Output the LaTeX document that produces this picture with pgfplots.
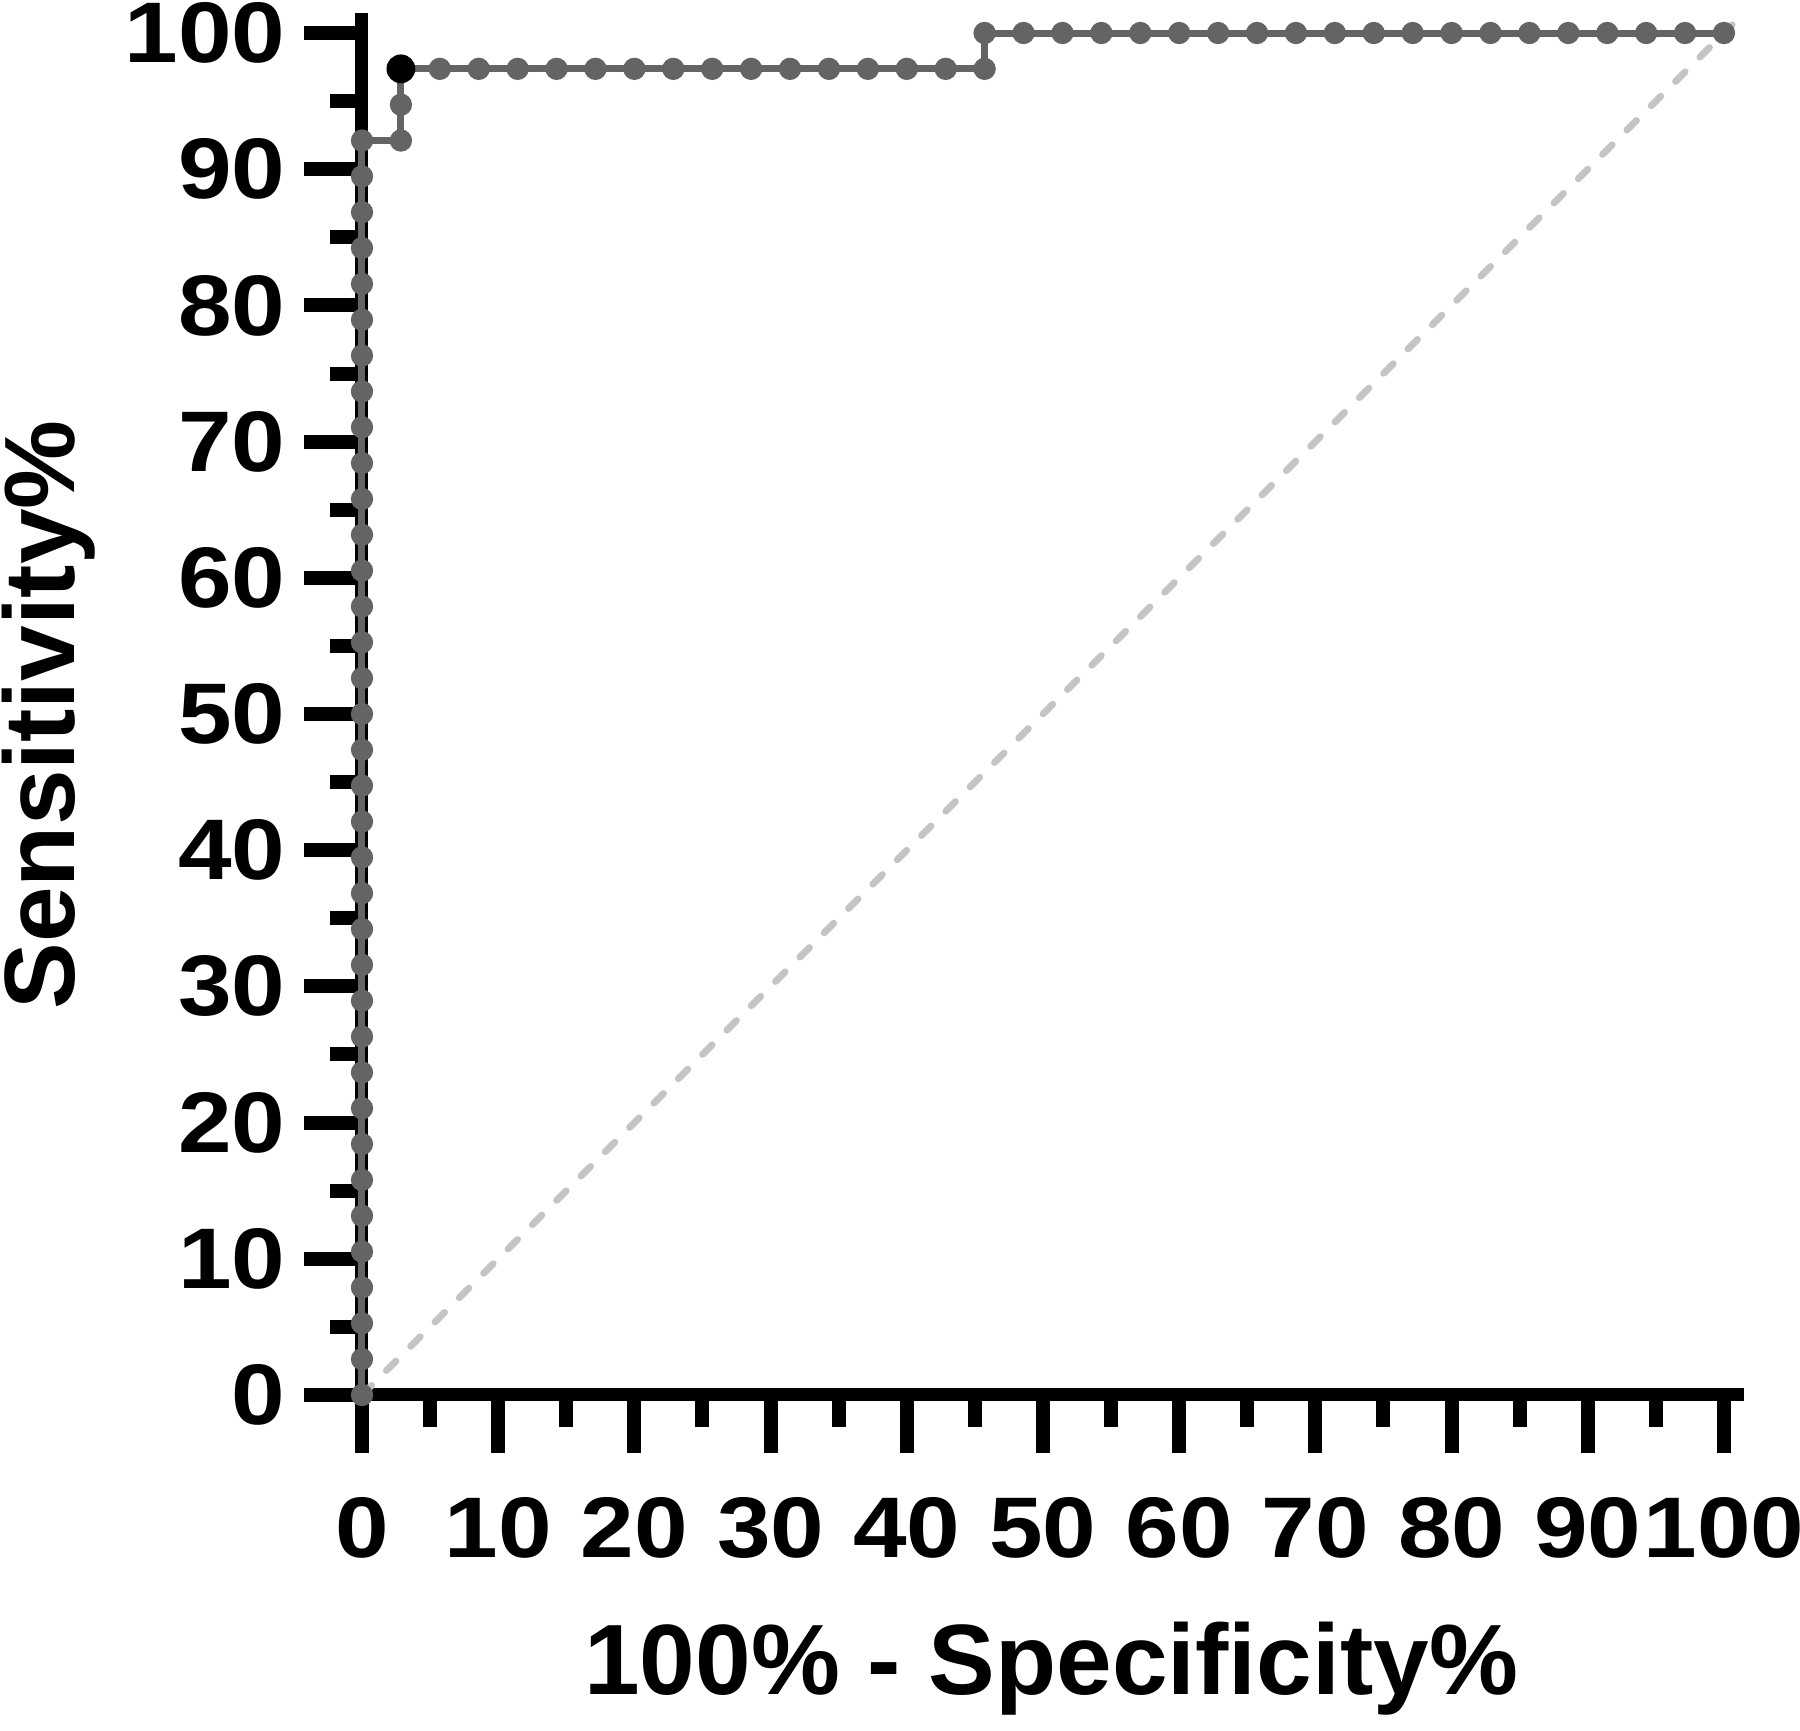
\documentclass[border=0pt]{standalone}
\usepackage{pgfplots}
\pgfplotsset{compat=1.18}
\usepackage{fontspec}
\setmainfont{Liberation Sans}
\newfontfamily\tickfont{Liberation Sans}[FakeStretch=1.12]
\definecolor{roc}{HTML}{646464}
\definecolor{diag}{HTML}{C4C4C4}
\begin{document}
\begin{tikzpicture}
\path[use as bounding box] (-90.5pt,-84pt) rectangle (359.5pt,348.75pt);
\begin{axis}[
  scale only axis,
  width=345.6pt, height=345.6pt,
  xmin=0, xmax=101.5, ymin=0, ymax=101.5,
  axis lines=left,
  axis line style={-, line width=3.25pt, black},
  clip=false,
  xtick={0,10,...,100}, ytick={0,10,...,100},
  minor xtick={5,15,...,95}, minor ytick={5,15,...,95},
  tick align=outside,
  major tick length=14.5pt, minor tick length=8pt,
  every tick/.style={line width=3.5pt, black},
  /pgf/number format/assume math mode=true,
  ticklabel style={font=\fontsize{21.5}{21.5}\tickfont\bfseries, inner sep=0pt},
  yticklabel style={anchor=east, xshift=-4.5pt},
  xticklabel style={anchor=north, yshift=-11pt},
  xlabel={100\% - Specificity\%},
  ylabel={Sensitivity\%},
  label style={font=\fontsize{25}{25}\selectfont\bfseries},
  xlabel style={at={(axis description cs:0.4986,-0.217)}, anchor=base},
  ylabel style={at={(axis description cs:-0.2077,0.492)}, anchor=base, rotate=0},
]
\addplot[diag, line width=1.7pt, dash pattern=on 3.4pt off 5.2pt, line cap=round] coordinates {(0,0) (100.6,100.6)};
\addplot[roc, line width=1.75pt, mark=*, mark size=1.9pt, mark options={fill=roc, draw=none}] table[row sep=\\] {
x y\\
0 0\\ 0 2.632\\ 0 5.263\\ 0 7.895\\ 0 10.526\\ 0 13.158\\ 0 15.789\\ 0 18.421\\ 0 21.053\\ 0 23.684\\
0 26.316\\ 0 28.947\\ 0 31.579\\ 0 34.211\\ 0 36.842\\ 0 39.474\\ 0 42.105\\ 0 44.737\\ 0 47.368\\ 0 50\\
0 52.632\\ 0 55.263\\ 0 57.895\\ 0 60.526\\ 0 63.158\\ 0 65.789\\ 0 68.421\\ 0 71.053\\ 0 73.684\\ 0 76.316\\
0 78.947\\ 0 81.579\\ 0 84.211\\ 0 86.842\\ 0 89.474\\ 0 92.105\\
2.857 92.105\\ 2.857 94.737\\ 2.857 97.368\\
5.714 97.368\\ 8.571 97.368\\ 11.429 97.368\\ 14.286 97.368\\ 17.143 97.368\\ 20 97.368\\ 22.857 97.368\\
25.714 97.368\\ 28.571 97.368\\ 31.429 97.368\\ 34.286 97.368\\ 37.143 97.368\\ 40 97.368\\ 42.857 97.368\\ 45.714 97.368\\
45.714 100\\ 48.571 100\\ 51.429 100\\ 54.286 100\\ 57.143 100\\ 60 100\\ 62.857 100\\ 65.714 100\\ 68.571 100\\
71.429 100\\ 74.286 100\\ 77.143 100\\ 80 100\\ 82.857 100\\ 85.714 100\\ 88.571 100\\ 91.429 100\\ 94.286 100\\ 97.143 100\\ 100 100\\
};
\addplot[only marks, mark=*, mark size=3.4pt, mark options={fill=black, draw=none}] coordinates {(2.857,97.368)};
\end{axis}
\end{tikzpicture}
\end{document}
